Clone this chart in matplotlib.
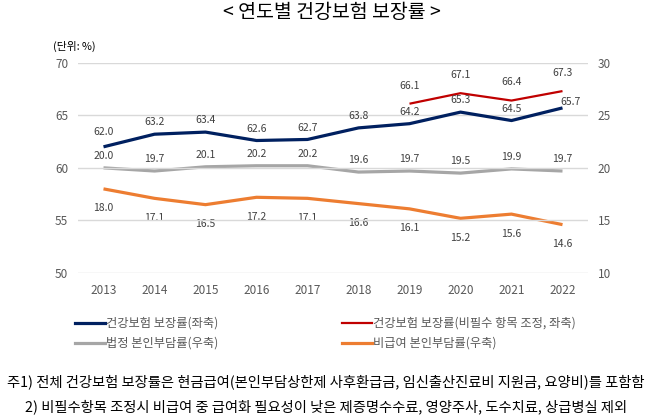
import matplotlib
matplotlib.use("Agg")
import matplotlib.pyplot as plt
from matplotlib.lines import Line2D

plt.rcParams['font.family'] = ['Noto Sans CJK KR', 'DejaVu Sans']

years = ['2013', '2014', '2015', '2016', '2017', '2018', '2019', '2020', '2021', '2022']
coverage = [62.0, 63.2, 63.4, 62.6, 62.7, 63.8, 64.2, 65.3, 64.5, 65.7]
adj_years = ['2019', '2020', '2021', '2022']
coverage_adj = [66.1, 67.1, 66.4, 67.3]
statutory = [20.0, 19.7, 20.1, 20.2, 20.2, 19.6, 19.7, 19.5, 19.9, 19.7]
noncovered = [18.0, 17.1, 16.5, 17.2, 17.1, 16.6, 16.1, 15.2, 15.6, 14.6]

title = '< 연도별 건강보험 보장률 >'
unit = '(단위: %)'
legend_labels = ['건강보험 보장률(좌축)', '건강보험 보장률(비필수 항목 조정, 좌축)',
                 '법정 본인부담률(우축)', '비급여 본인부담률(우축)']
notes = ['주1) 전체 건강보험 보장률은 현금급여(본인부담상한제 사후환급금, 임신출산진료비 지원금, 요양비)를 포함함',
         '2) 비필수항목 조정시 비급여 중 급여화 필요성이 낮은 제증명수수료, 영양주사, 도수치료, 상급병실 제외']

c_blue = '#002060'
c_red = '#C00000'
c_gray = '#A6A6A6'
c_orange = '#ED7D31'
tc = '#404040'

W, H = 650, 416
fig = plt.figure(figsize=(6.5, 4.16), dpi=100)
ax = fig.add_axes([78 / W, 1 - 273 / H, 510 / W, (273 - 62.7) / H])
ax2 = ax.twinx()

x = list(range(len(years)))
xa = [years.index(y) for y in adj_years]

ax.set_ylim(50, 70)
ax.set_yticks([50, 55, 60, 65, 70])
ax2.set_ylim(10, 30)
ax2.set_yticks([10, 15, 20, 25, 30])
ax.set_xlim(-0.5, len(years) - 0.5)
ax.set_xticks(x)
ax.set_xticklabels(years)
ax.grid(axis='y', color='#D9D9D9', lw=1)
ax.set_axisbelow(True)
for a in (ax, ax2):
    for s in a.spines.values():
        s.set_visible(False)
    a.tick_params(length=0, labelsize=8.5, colors='#595959')
ax.tick_params(axis='y', pad=7)
ax2.tick_params(axis='y', pad=7)
ax.tick_params(axis='x', pad=8)

ax2.plot(x, statutory, color=c_gray, lw=2.3, solid_capstyle='butt')
ax2.plot(x, noncovered, color=c_orange, lw=2.3, solid_capstyle='butt')
ax.set_zorder(ax2.get_zorder() + 1)
ax.patch.set_visible(False)
ax.plot(x, coverage, color=c_blue, lw=2.3, solid_capstyle='butt')
ax.plot(xa, coverage_adj, color=c_red, lw=1.6, solid_capstyle='butt')

fs = 7.5
blue_off = [(0, 11)] + [(0, 8.5)] * (len(years) - 2) + [(6, 4.5)]
for xi, v, off in zip(x, coverage, blue_off):
    ax.annotate(f'{v:.1f}', (xi, v), xytext=off, textcoords='offset points',
                ha='center', va='center', fontsize=fs, color=tc)
for xi, v in zip(xa, coverage_adj):
    ax.annotate(f'{v:.1f}', (xi, v), xytext=(0, 13), textcoords='offset points',
                ha='center', va='center', fontsize=fs, color=tc)
for xi, v in zip(x, statutory):
    ax2.annotate(f'{v:.1f}', (xi, v), xytext=(0, 8.5), textcoords='offset points',
                 ha='center', va='center', fontsize=fs, color=tc)
for xi, v in zip(x, noncovered):
    ax2.annotate(f'{v:.1f}', (xi, v), xytext=(0, -14), textcoords='offset points',
                 ha='center', va='center', fontsize=fs, color=tc)

fig.text(332 / W, 1 - 12 / H, title, ha='center', va='center', fontsize=14, color='#000000')
fig.text(53 / W, 1 - 46 / H, unit, ha='left', va='center', fontsize=7.8, color='#000000')

# legend (manual layout)
leg_items = [
    (legend_labels[0], c_blue, 2.3, 75, 323),
    (legend_labels[2], c_gray, 2.3, 75, 343),
    (legend_labels[1], c_red, 1.6, 342, 323),
    (legend_labels[3], c_orange, 2.3, 342, 343),
]
for lab, col, lw, lx, ly in leg_items:
    fig.add_artist(Line2D([lx / W, (lx + 30) / W], [1 - ly / H, 1 - ly / H],
                          color=col, lw=lw, transform=fig.transFigure))
    fig.text((lx + 31) / W, 1 - ly / H, lab, ha='left', va='center',
             fontsize=8.8, color='#595959')

fig.text(7 / W, 1 - 382 / H, notes[0], ha='left', va='center', fontsize=10.3, color='#000000')
fig.text(25 / W, 1 - 407 / H, notes[1], ha='left', va='center', fontsize=10.3, color='#000000')

fig.savefig('out.png', dpi=100)
